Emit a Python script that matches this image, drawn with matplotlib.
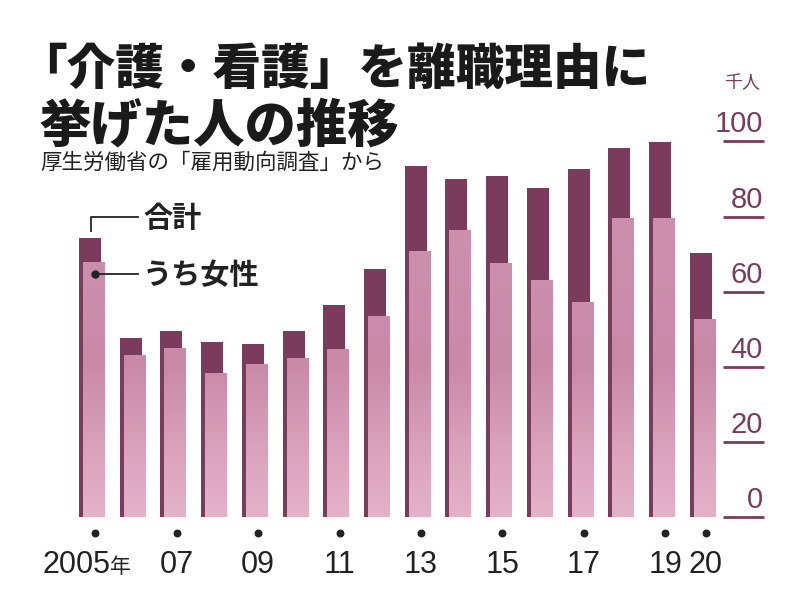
import numpy as np
import matplotlib
matplotlib.use("Agg")
import matplotlib.pyplot as plt
from matplotlib.colors import LinearSegmentedColormap
from matplotlib.transforms import blended_transform_factory

plt.rcParams['font.family'] = ['Noto Sans CJK JP', 'DejaVu Sans']

# 介護・看護を理由に離職した人（千人）
years = list(range(2005, 2021))
total = [74.3, 47.7, 49.5, 46.6, 46.1, 49.5, 56.5, 66.0,
         93.5, 90.0, 90.8, 87.6, 92.7, 98.3, 99.9, 70.3]
women = [67.9, 42.9, 45.0, 38.3, 40.5, 42.1, 44.5, 53.3,
         70.8, 76.2, 67.4, 63.1, 57.0, 79.4, 79.6, 52.5]
label_years = [2005, 2007, 2009, 2011, 2013, 2015, 2017, 2019, 2020]
label_text = ["2005", "07", "09", "11", "13", "15", "17", "19", "20"]
y_ticks = [0, 20, 40, 60, 80, 100]

dark = "#7b3b5c"
num_font = ['Liberation Sans Narrow', 'Liberation Sans']

fig = plt.figure(figsize=(8, 6.14), dpi=100)
ax = fig.add_axes([0, 0, 1, 1])
ax.axis('off')

bar_w = 0.54
shift = 0.10

ax.bar(years, total, width=bar_w, align='edge', color=dark, zorder=2)

cmap = LinearSegmentedColormap.from_list(
    "pink", [(0.0, "#e4b2c8"), (0.15, "#dca5bd"), (0.40, "#c98aa8"), (1.0, "#cd93b0")])
for yr, v in zip(years, women):
    grad = np.linspace(v, 0, 200).reshape(-1, 1)
    ax.imshow(grad, extent=[yr + shift, yr + shift + bar_w, 0, v], cmap=cmap,
              vmin=0, vmax=100, aspect='auto', zorder=3, interpolation='bilinear')

ax.set_xlim(2003.06, 2022.71)
ax.set_ylim(-25.83, 137.68)

# year dots and labels
dot_x = [y + 0.40 for y in label_years]
ax.scatter(dot_x, [-4.3] * len(dot_x), s=22, color="#222222", zorder=4)
for x, t in zip(dot_x, label_text):
    if t == "2005":
        ax.text(x + 0.37, -14.9, t, ha='right', va='baseline', fontsize=22,
                family=num_font, color="#222222")
        ax.text(x + 0.37, -14.9, "年", ha='left', va='baseline', fontsize=15,
                color="#222222")
    else:
        ax.text(x, -14.9, t, ha='center', va='baseline', fontsize=22,
                family=num_font, color="#222222")

# right-hand scale
tr = blended_transform_factory(ax.transAxes, ax.transData)
for v in y_ticks:
    ax.plot([723 / 800, 764 / 800], [v, v], transform=tr, color=dark, lw=2,
            solid_capstyle='butt')
    ax.text(763 / 800, v + 2.4, str(v), transform=tr, ha='right', va='baseline',
            fontsize=21, family=num_font, color=dark)
ax.text(742 / 800, 115.5, "千人", transform=tr, ha='center', va='center',
        fontsize=13, color=dark)


# legend callouts
def fx(p):
    return p / 800


def fy(p):
    return 1 - p / 614


fig.add_artist(plt.Line2D([fx(91), fx(91), fx(138)], [fy(231), fy(217), fy(217)],
                          color="#222222", lw=1.3))
fig.text(fx(143), fy(218), "合計", ha='left', va='center', fontsize=21,
         weight='bold', color="#222222")
fig.add_artist(plt.Line2D([fx(95), fx(138)], [fy(274), fy(274)], color="#222222", lw=1.3))
fig.add_artist(plt.Line2D([fx(95)], [fy(274)], marker='o', ms=5, color="#222222"))
fig.text(fx(143), fy(275), "うち女性", ha='left', va='center', fontsize=21,
         weight='bold', color="#222222")

# titles
fig.text(fx(18), fy(70), "「介護・看護」を離職理由に", ha='left', va='center',
         fontsize=35, weight='black', color="#1a1a1a")
fig.text(fx(40), fy(126), "挙げた人の推移", ha='left', va='center',
         fontsize=37, weight='black', color="#1a1a1a")
fig.text(fx(40), fy(163), "厚生労働省の「雇用動向調査」から", ha='left', va='center',
         fontsize=15.5, color="#222222")

fig.savefig("out.png", dpi=100)
